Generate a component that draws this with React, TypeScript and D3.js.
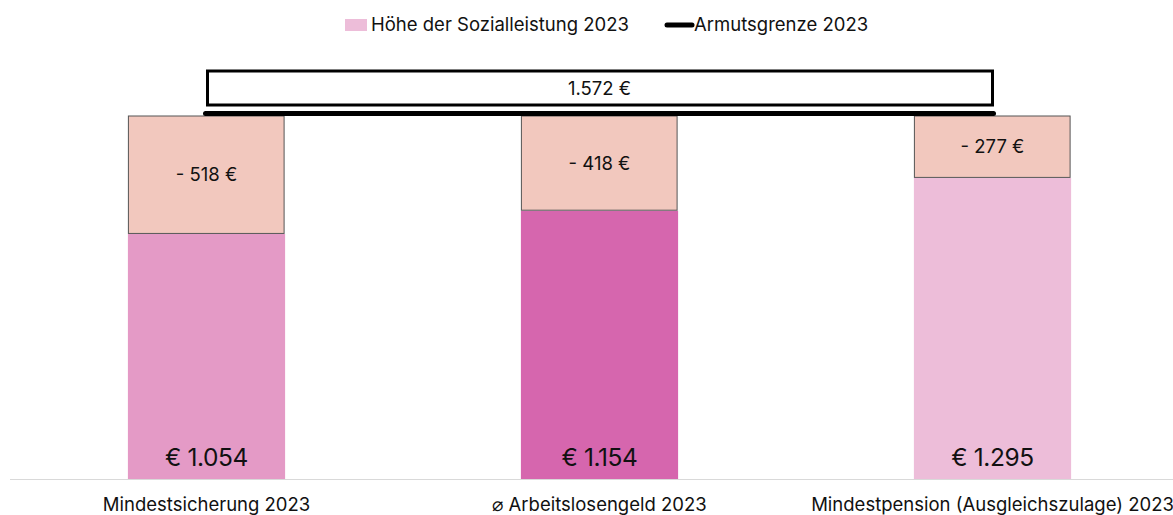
import React from "react";
import * as d3 from "d3";

const categories = ["Mindestsicherung 2023", "⌀ Arbeitslosengeld 2023", "Mindestpension (Ausgleichszulage) 2023"];
const benefitValues = [1054, 1154, 1295];
const barColors = ["#E49AC6", "#D666AE", "#EDBDD9"];
const povertyLine = 1572;
const legendLabels = ["Höhe der Sozialleistung 2023", "Armutsgrenze 2023"];

const W = 1173;
const H = 515;
const FONT = "Inter, 'Open Sans', sans-serif";

const fmtThousands = (v: number) => {
  const s = String(Math.abs(v));
  return s.length > 3 ? s.slice(0, s.length - 3) + "." + s.slice(s.length - 3) : s;
};

export default function App() {
  const x = d3.scaleBand<string>().domain(categories).range([10, 1189]).paddingInner(0.6).paddingOuter(0.3);
  const y = d3.scaleLinear().domain([0, povertyLine]).range([479, 113.5]);
  const bw = x.bandwidth();
  const cx = (c: string) => (x(c) as number) + bw / 2;
  const yLine = y(povertyLine);
  const xFirst = cx(categories[0]);
  const xLast = cx(categories[categories.length - 1]);

  return (
    <svg width={W} height={H} style={{ position: "absolute", left: 0, top: 0, background: "#fff" }} fontFamily={FONT} fontWeight={400}>
      {/* legend */}
      <rect x={345} y={19} width={22} height={12} fill={barColors[2]} />
      <text x={371} y={31} fontSize={18.5} fill="#111">{legendLabels[0]}</text>
      <line x1={667} x2={692} y1={25} y2={25} stroke="#000" strokeWidth={5} strokeLinecap="round" />
      <text x={694} y={31} fontSize={18.5} fill="#111">{legendLabels[1]}</text>

      {/* baseline */}
      <line x1={10} x2={W} y1={y(0) + 0.5} y2={y(0) + 0.5} stroke="#d9d9d9" strokeWidth={1} />

      {categories.map((c, i) => {
        const v = benefitValues[i];
        const x0 = x(c) as number;
        const gap = v - povertyLine;
        return (
          <g key={c}>
            <rect x={x0} y={y(v)} width={bw} height={y(0) - y(v)} fill={barColors[i]} />
            <rect x={x0 + 0.5} y={yLine + 2.5} width={bw - 1.5} height={y(v) - yLine - 3} fill="#F2C8BE" stroke="#555" strokeWidth={1} />
            <text x={cx(c)} y={(y(v) + yLine + 2) / 2 + 6.5} textAnchor="middle" fontSize={18.5} fill="#111">
              {"- " + fmtThousands(gap) + " €"}
            </text>
            <text x={cx(c)} y={466} textAnchor="middle" fontSize={24.5} letterSpacing={-0.4} fill="#111">
              {"€ " + fmtThousands(v)}
            </text>
            <text x={cx(c)} y={511} textAnchor="middle" fontSize={18.5} fill="#111">{c}</text>
          </g>
        );
      })}

      {/* poverty line */}
      <line x1={xFirst - 1} x2={xLast + 1} y1={yLine} y2={yLine} stroke="#000" strokeWidth={5} strokeLinecap="round" />
      <rect x={xFirst + 1} y={71} width={xLast - xFirst - 1} height={34} fill="#fff" stroke="#000" strokeWidth={3} />
      <text x={(xFirst + xLast) / 2} y={95} textAnchor="middle" fontSize={18.5} fill="#111">
        {fmtThousands(povertyLine) + " €"}
      </text>
    </svg>
  );
}
